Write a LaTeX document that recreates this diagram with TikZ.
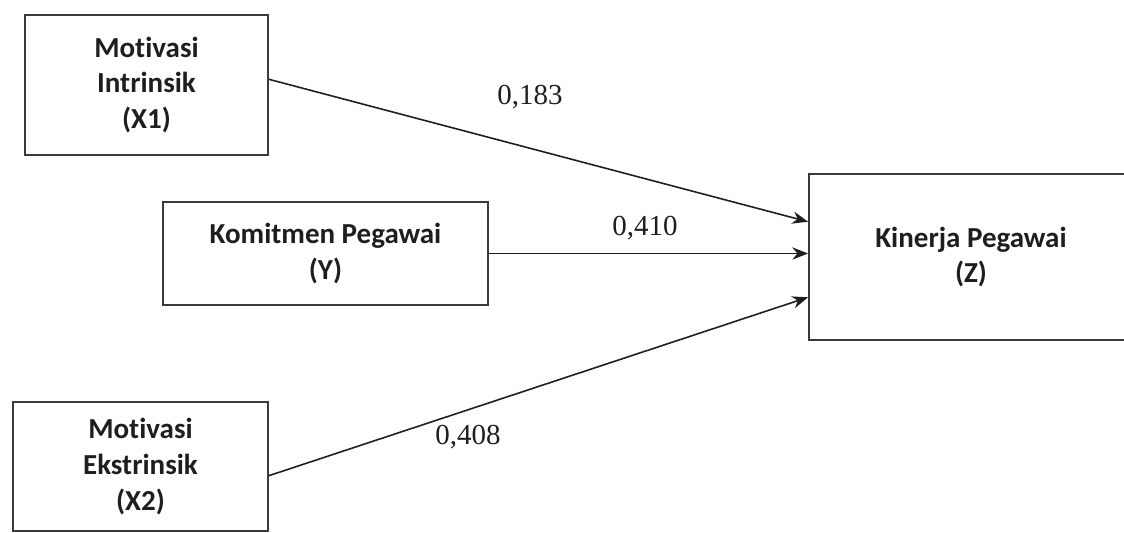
\documentclass[tikz,border=0pt]{standalone}
\usepackage{fontspec}
\usetikzlibrary{arrows.meta, calc}
\newfontfamily\boxfont[Ligatures=NoCommon]{Carlito}
\newfontfamily\coeffont{Liberation Serif}
\definecolor{inkgray}{HTML}{1E1E1E}
\definecolor{edgegray}{HTML}{3A3A3A}

\tikzset{
  varbox/.style={draw=edgegray, line width=1.1pt, inner sep=0pt, align=center,
    font=\boxfont\bfseries\fontsize{16.5}{20.4}\selectfont, text=inkgray},
  path/.style={->, inkgray, line width=0.9pt},
  coef/.style={font=\coeffont\fontsize{16.5}{19}\selectfont, text=inkgray},
}

\begin{document}
\begin{tikzpicture}[
    x=0.02cm, y=0.02cm,
    >={Stealth[length=9pt, width=7pt]},
  ]

  % Frame (page size)
  \useasboundingbox (0,0) rectangle (1124,533);
  \clip (0,0) rectangle (1124,533);

  % === Variables ===
  \node[varbox, minimum width=4.86cm, minimum height=2.80cm] (X1) at (146.5,448)
    {Motivasi\\Intrinsik\\(X1)};
  \node[varbox, minimum width=6.50cm, minimum height=2.06cm] (Y) at (325.5,279.5)
    {Komitmen Pegawai\\(Y)};
  \node[varbox, minimum width=5.10cm, minimum height=2.58cm] (X2) at (140.5,66.5)
    {Motivasi\\Ekstrinsik\\(X2)};
  % Z runs past the right edge of the page
  \node[varbox, minimum width=6.90cm, minimum height=3.32cm] (Z) at (981.5,276)
    {\hspace*{-0.42cm}Kinerja Pegawai\\\hspace*{-0.42cm}(Z)};

  % === Paths into Z ===
  \draw[path] ($(X1.north east)!0.46!(X1.south east)$)
    -- ($(Z.north west)!0.29!(Z.south west)$);
  \draw[path] (Y.east) -- (Y.east -| Z.west);
  \draw[path] ($(X2.north east)!0.57!(X2.south east)$)
    -- ($(Z.north west)!0.74!(Z.south west)$);

  % === Coefficients ===
  \node[coef] (c1) at (530,436) {0,183};
  \node[coef] (c2) at (645,305) {0,410};
  \node[coef] (c3) at (468,96) {0,408};

\end{tikzpicture}
\end{document}
